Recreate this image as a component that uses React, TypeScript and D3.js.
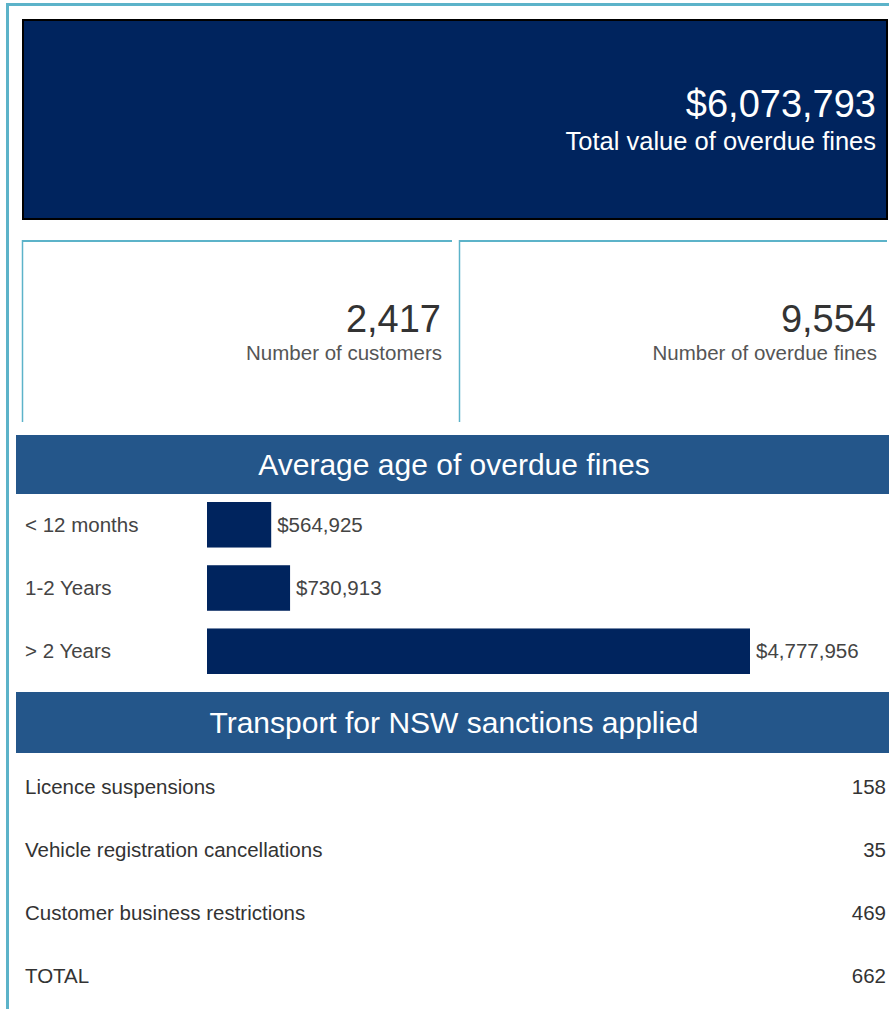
import { useEffect, useRef } from "react";
import * as d3 from "d3";

// headline figures
const totalValue = 6073793;
const customerCount = 2417;
const overdueFineCount = 9554;

// average age of overdue fines
const ageCategories = ["< 12 months", "1-2 Years", "> 2 Years"];
const ageValues = [564925, 730913, 4777956];

// sanctions applied
const sanctionLabels = [
  "Licence suspensions",
  "Vehicle registration cancellations",
  "Customer business restrictions",
  "TOTAL",
];
const sanctionValues = [158, 35, 469, 662];

const W = 889;
const H = 1009;
const FONT = "'Liberation Sans', Arial, sans-serif";
const NAVY = "#00245e";
const BAND = "#24568a";
const TEAL = "#5cb3c9";

export default function App() {
  const svgRef = useRef<SVGSVGElement>(null);

  useEffect(() => {
    if (!svgRef.current) return;
    const svg = d3.select(svgRef.current);
    svg.selectAll("*").remove();
    svg.attr("width", W).attr("height", H).style("font-family", FONT);

    const fmt = d3.format(",");
    const money = (v: number) => "$" + fmt(v);

    // outer frame
    svg.append("line").attr("x1", 7.5).attr("x2", 7.5).attr("y1", 3).attr("y2", H)
      .attr("stroke", TEAL).attr("stroke-width", 3);
    svg.append("line").attr("x1", 6).attr("x2", W).attr("y1", 4.5).attr("y2", 4.5)
      .attr("stroke", TEAL).attr("stroke-width", 3);

    // total value tile
    svg.append("rect").attr("x", 22).attr("y", 19).attr("width", 866).attr("height", 201)
      .attr("fill", "#999");
    svg.append("rect").attr("x", 23).attr("y", 20).attr("width", 864).attr("height", 199)
      .attr("fill", NAVY).attr("stroke", "#000").attr("stroke-width", 2);
    svg.append("text").attr("x", 876).attr("y", 117).attr("text-anchor", "end")
      .attr("fill", "#fff").style("font-size", "38px").text(money(totalValue));
    svg.append("text").attr("x", 876).attr("y", 150).attr("text-anchor", "end")
      .attr("fill", "#fff").style("font-size", "25.5px").text("Total value of overdue fines");

    // count tiles
    const tiles = [
      { x0: 22, x1: 452, value: customerCount, label: "Number of customers" },
      { x0: 459, x1: 887, value: overdueFineCount, label: "Number of overdue fines" },
    ];
    tiles.forEach((t) => {
      const g = svg.append("g");
      g.append("line").attr("x1", t.x0).attr("x2", t.x1).attr("y1", 241).attr("y2", 241)
        .attr("stroke", TEAL).attr("stroke-width", 2);
      g.append("line").attr("x1", t.x0 + 0.5).attr("x2", t.x0 + 0.5).attr("y1", 240).attr("y2", 422)
        .attr("stroke", TEAL).attr("stroke-width", 1.5);
      g.append("text").attr("x", t.x1 - 11).attr("y", 332).attr("text-anchor", "end")
        .attr("fill", "#333").style("font-size", "38px").text(fmt(t.value));
      g.append("text").attr("x", t.x1 - 10).attr("y", 360).attr("text-anchor", "end")
        .attr("fill", "#555").style("font-size", "20.5px").text(t.label);
    });

    const header = (y0: number, y1: number, title: string) => {
      svg.append("rect").attr("x", 16).attr("y", y0).attr("width", W - 16).attr("height", y1 - y0)
        .attr("fill", BAND);
      svg.append("text").attr("x", 454).attr("y", (y0 + y1) / 2 + 10).attr("text-anchor", "middle")
        .attr("fill", "#fff").style("font-size", "30px").text(title);
    };

    // age of fines bar chart
    header(435, 494, "Average age of overdue fines");

    const x = d3.scaleLinear().domain([0, d3.max(ageValues)!]).range([207, 750]);
    const y = d3.scaleBand().domain(ageCategories).range([502, 674]).paddingInner(0.28);

    const bars = svg.append("g");
    ageCategories.forEach((c, i) => {
      const by = y(c)!;
      bars.append("rect").attr("x", x(0)).attr("y", by).attr("width", x(ageValues[i]) - x(0))
        .attr("height", y.bandwidth()).attr("fill", NAVY);
      bars.append("text").attr("x", 25).attr("y", by + y.bandwidth() / 2 + 7)
        .attr("fill", "#444").style("font-size", "20.5px").text(c);
      bars.append("text").attr("x", x(ageValues[i]) + 6).attr("y", by + y.bandwidth() / 2 + 7)
        .attr("fill", "#444").style("font-size", "20.5px").text(money(ageValues[i]));
    });

    // sanctions table
    header(692, 753, "Transport for NSW sanctions applied");

    const rows = d3.scaleBand().domain(sanctionLabels).range([755, 1007]);
    sanctionLabels.forEach((s, i) => {
      const ry = rows(s)! + rows.bandwidth() / 2 + 7;
      svg.append("text").attr("x", 25).attr("y", ry).attr("fill", "#333")
        .style("font-size", "20.5px").text(s);
      svg.append("text").attr("x", 886).attr("y", ry).attr("text-anchor", "end")
        .attr("fill", "#333").style("font-size", "20.5px").text(fmt(sanctionValues[i]));
    });
  }, []);

  return (
    <div style={{ position: "absolute", left: 0, top: 0 }}>
      <svg ref={svgRef}></svg>
    </div>
  );
}
